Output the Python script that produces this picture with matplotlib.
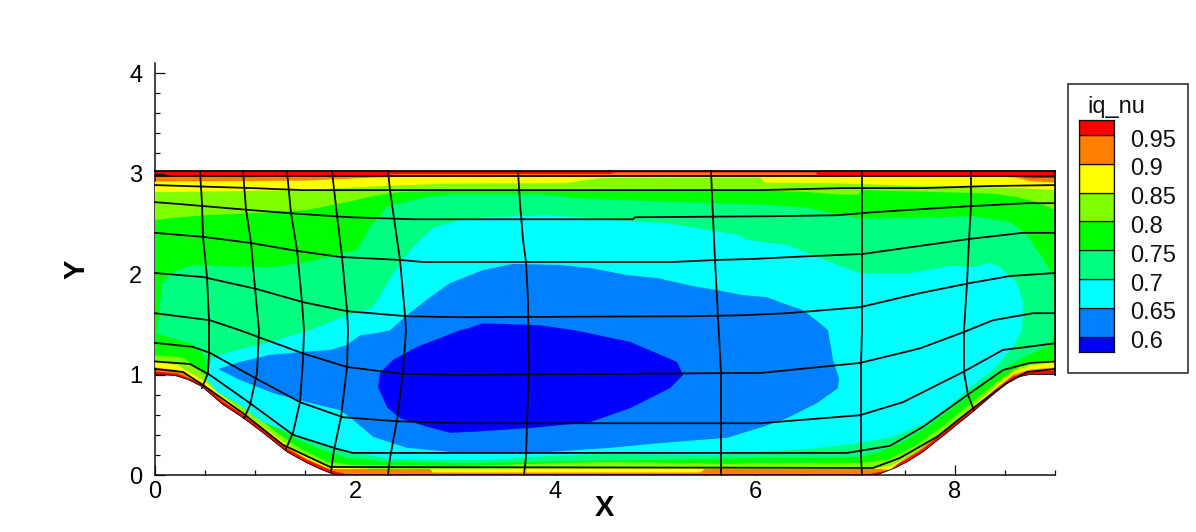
import matplotlib
matplotlib.use("Agg")
import matplotlib.pyplot as plt
from matplotlib.patches import Rectangle
from matplotlib.ticker import MultipleLocator

plt.rcParams['font.family'] = ['Liberation Sans', 'DejaVu Sans']

top_y = 3.025
wall = [(0,1.0),(.2,.99),(.33,.95),(.47,.88),(.68,.70),(.88,.57),(1.08,.42),(1.32,.23),(1.52,.12),(1.65,.06),(1.75,.02),(1.82,0),
        (7.2,0),(7.27,.02),(7.4,.07),(7.52,.13),(7.68,.23),(7.92,.42),(8.18,.63),(8.38,.8),(8.5,.9),(8.58,.95),(8.65,.98),(8.75,1.0),(9,1.0)]

# Contour outlines: upper edge left-to-right, lower edge left-to-right
orange_upper = [(0,2.975),(2.2,2.975),(2.4,2.995),(4.55,2.995),(4.6,3.01),(6.6,3.01),(6.65,2.97),(8.6,2.97),(8.75,2.955),(9,2.955)]
orange_lower = [(0,1.03),(.22,1.01),(.47,.91),(.68,.73),(.88,.60),(1.08,.45),(1.32,.26),(1.52,.15),(1.75,.05),(1.9,.01),
                (7.15,.01),(7.3,.04),(7.52,.16),(7.68,.26),(7.92,.45),(8.18,.66),(8.38,.83),(8.58,.98),(8.75,1.03),(9,1.04)]
yellow_upper = [(0,2.92),(1.5,2.93),(2.2,2.96),(2.4,2.965),(4.5,2.965),(4.55,2.975),(8.45,2.97),(8.6,2.96),(8.75,2.925),(9,2.91)]
yellow_lower = [(0,1.07),(.22,1.045),(.47,.92),(.68,.745),(.88,.605),(1.08,.46),(1.32,.275),(1.52,.16),(1.75,.06),(1.9,.06),
                (2.75,.06),(2.78,.025),(5.45,.025),(5.5,.06),(7.25,.06),(7.35,.05),(7.52,.18),(7.68,.28),(7.92,.46),(8.18,.67),
                (8.38,.84),(8.58,1.0),(8.75,1.05),(9,1.07)]
lime_upper = [(0,2.815),(.85,2.825),(1.45,2.835),(2.25,2.875),(2.95,2.9),(4.1,2.905),(4.45,2.955),(6.05,2.96),(6.1,2.91),
              (6.75,2.905),(7.7,2.875),(8.65,2.855),(9,2.835)]
lime_lower = [(0,1.12),(.22,1.095),(.48,.945),(.68,.78),(.88,.63),(1.08,.48),(1.32,.30),(1.52,.17),(1.75,.08),(2.18,.06),
              (3.05,.06),(6.05,.07),(7.2,.07),(7.35,.09),(7.62,.23),(7.92,.47),(8.18,.68),(8.38,.86),(8.58,1.03),(8.75,1.09),(9,1.12)]
green_upper = [(0,2.537),(.18,2.557),(.52,2.587),(1.02,2.607),(1.52,2.637),(1.92,2.716),(2.18,2.776),(2.45,2.816),(3.05,2.83),
               (6.05,2.83),(6.52,2.816),(6.85,2.79),(7.03,2.79),(7.08,2.835),(8.18,2.806),(8.38,2.80),(8.62,2.766),(8.85,2.706),(9,2.637)]
green_lower = [(0,1.19),(.28,1.17),(.48,1.01),(.68,.855),(.92,.67),(1.18,.45),(1.42,.28),(1.72,.13),(1.98,.10),(3.05,.09),
               (4.52,.13),(5.75,.11),(6.05,.12),(7.05,.12),(7.32,.15),(7.62,.30),(7.92,.52),(8.18,.73),(8.45,.95),(8.68,1.10),(9,1.145)]
spring_upper = [(.03,1.5),(.07,1.91),(.18,2.02),(.38,2.09),(.95,2.07),(1.18,2.07),(1.52,2.12),(2.02,2.24),(2.15,2.47),(2.32,2.67),
                (2.68,2.76),(2.95,2.79),(3.88,2.79),(4.22,2.755),(4.85,2.73),(6.12,2.69),(6.52,2.66),(6.85,2.59),(7.05,2.55),
                (7.6,2.56),(8.18,2.575),(8.55,2.52),(8.7,2.41),(8.87,2.17),(8.97,2.0),(9,1.9)]
spring_lower = [(.01,1.41),(.35,1.31),(.47,1.23),(.52,1.09),(.65,.88),(.92,.70),(1.18,.50),(1.42,.35),(1.72,.23),(1.92,.17),
                (2.35,.13),(3.05,.12),(3.2,.12),(5,.15),(6.05,.17),(6.55,.17),(7.05,.18),(7.22,.22),(7.48,.33),(7.72,.48),
                (7.95,.645),(8.15,.795),(8.35,.965),(8.52,1.075),(8.72,1.19),(8.92,1.27),(9,1.39)]
cyan_outline = [(.5,.975),(.53,1.065),(.58,1.165),(.78,1.235),(1.05,1.295),(1.55,1.44),(1.92,1.59),(2.18,1.67),(2.45,2.11),
                (2.58,2.27),(2.78,2.46),(3.05,2.535),(3.28,2.565),(3.95,2.585),(4.62,2.535),(5.12,2.505),(5.58,2.43),(5.82,2.39),
                (5.92,2.34),(6.15,2.31),(6.32,2.29),(6.62,2.17),(6.88,2.07),(7.05,2.01),(7.55,2.01),(7.95,2.08),(8.18,2.07),
                (8.35,2.11),(8.45,2.07),(8.62,1.91),(8.68,1.71),(8.67,1.44),(8.58,1.275),(8.38,1.045),(8.18,.895),(7.95,.695),
                (7.72,.525),(7.38,.38),(7.05,.32),(6.55,.26),(6.05,.23),(5.62,.20),(4.48,.21),(3.72,.18),(3.35,.15),(2.95,.15),
                (2.35,.16),(2.02,.22),(1.65,.30),(1.35,.42),(1.08,.525),(.85,.695),(.62,.825)]
blue_outline = [(.63,1.055),(.85,1.125),(1.15,1.195),(1.48,1.225),(1.75,1.245),(1.92,1.295),(2.05,1.39),(2.2,1.41),(2.35,1.44),
                (2.52,1.59),(2.75,1.77),(2.95,1.91),(3.08,1.96),(3.28,2.04),(3.58,2.10),(4.05,2.09),(4.35,2.06),(4.72,1.99),
                (5.02,1.96),(5.38,1.88),(5.62,1.84),(5.88,1.79),(6.12,1.77),(6.25,1.72),(6.48,1.64),(6.65,1.51),(6.73,1.44),
                (6.78,1.145),(6.84,.965),(6.83,.865),(6.62,.715),(6.32,.565),(6.08,.48),(5.72,.37),(5.08,.32),(4.55,.27),
                (3.95,.23),(2.95,.23),(2.52,.27),(2.18,.38),(1.98,.55),(1.85,.645),(1.52,.725),(1.18,.815),(.85,.945)]
navy_outline = [(2.23,.875),(2.25,1.015),(2.38,1.145),(2.62,1.275),(3.05,1.44),(3.13,1.46),(3.28,1.51),(3.85,1.49),(4.2,1.44),
                (4.75,1.325),(5.22,1.125),(5.28,.995),(5.15,.865),(4.75,.665),(4.35,.525),(3.78,.47),(3.18,.43),(2.95,.42),
                (2.72,.48),(2.45,.565),(2.32,.675)]

# Mesh lines
h_lines = [
    [(0,3.025),(9,3.025)],
    [(0,2.975),(9,2.975)],
    [(0,2.885),(.98,2.855),(1.48,2.835),(6.05,2.835),(6.88,2.855),(7.68,2.855),(8.32,2.875),(9,2.885)],
    [(0,2.715),(.2,2.70),(.85,2.645),(1.35,2.605),(1.95,2.565),(2.58,2.545),(4.78,2.545),(4.8,2.565),(6.15,2.575),(6.82,2.585),
     (7.18,2.615),(7.65,2.645),(8.15,2.675),(8.72,2.705),(9,2.705)],
    [(0,2.41),(.48,2.37),(.95,2.31),(1.42,2.23),(1.85,2.17),(2.45,2.14),(2.68,2.12),(5.18,2.12),(5.62,2.14),(5.98,2.15),(6.38,2.17),
     (7.08,2.20),(7.65,2.28),(8.15,2.35),(8.68,2.41),(9,2.41)],
    [(0,2.01),(.48,1.97),(1.02,1.85),(1.48,1.72),(1.92,1.63),(2.52,1.58),(3.05,1.57),(5.35,1.58),(5.88,1.59),(6.32,1.61),(7.05,1.67),
     (7.65,1.81),(8.15,1.91),(8.55,1.98),(9,2.01)],
    [(0,1.61),(.55,1.54),(.85,1.44),(1.48,1.21),(1.92,1.075),(2.48,1.005),(3.05,.995),(5.82,1.015),(6.05,1.015),(7.05,1.115),
     (7.65,1.26),(8.08,1.42),(8.38,1.54),(8.78,1.61),(9,1.61)],
    [(0,1.315),(.38,1.275),(.55,1.215),(1.02,.955),(1.45,.725),(1.88,.575),(2.42,.535),(3.05,.515),(6.05,.515),(7.05,.595),
     (7.48,.725),(8.08,1.025),(8.48,1.245),(9,1.31)],
    [(0,1.13),(.35,1.105),(.55,.995),(.95,.715),(1.38,.40),(1.82,.26),(1.98,.22),(6.05,.22),(6.92,.22),(7.35,.29),(7.68,.48),
     (8.15,.815),(8.48,1.045),(8.75,1.115),(9,1.13)],
    [(0,1.055),(.28,1.025),(.48,.895),(.88,.615),(1.28,.30),(1.75,.08),(7.18,.07),(7.45,.17),(7.82,.38),(8.18,.665),(8.52,.915),
     (8.72,1.025),(9,1.055)],
]
v_lines = [
    [(.45,3.025),(.47,2.705),(.48,2.37),(.52,1.97),(.54,1.54),(.54,1.215),(.53,1.015),(.47,.865)],
    [(.88,3.025),(.91,2.645),(.96,2.31),(1.0,1.86),(1.04,1.44),(1.02,1.015),(.95,.695),(.89,.565)],
    [(1.32,3.025),(1.36,2.605),(1.42,2.24),(1.47,1.72),(1.49,1.44),(1.48,1.145),(1.45,.725),(1.38,.42),(1.31,.26)],
    [(1.77,3.025),(1.82,2.585),(1.87,2.17),(1.92,1.64),(1.93,1.44),(1.92,1.075),(1.86,.575),(1.79,.25),(1.76,.03)],
    [(2.33,3.025),(2.35,2.835),(2.39,2.555),(2.45,2.14),(2.5,1.59),(2.51,1.44),(2.48,1.015),(2.42,.545),(2.35,.17),(2.33,0)],
    [(3.63,3.025),(3.65,2.705),(3.68,2.34),(3.71,2.12),(3.73,1.74),(3.74,1.015),(3.72,.515),(3.71,.18),(3.69,0)],
    [(5.56,3.025),(5.58,2.565),(5.6,2.14),(5.63,1.57),(5.66,1.015),(5.66,0)],
    [(7.07,3.025),(7.07,1.44),(7.06,1.115),(7.06,.18),(7.07,0)],
    [(8.16,3.025),(8.16,2.675),(8.14,2.34),(8.12,1.91),(8.09,1.44),(8.09,1.025),(8.13,.795),(8.19,.645)],
]
right_edge = [(9,1.0),(9,3.025)]

# Legend
legend_title = 'iq_nu'
level_edges = [.574,.60,.65,.70,.75,.80,.85,.90,.95,.976]
level_colors = ['#0000ff','#0080ff','#00ffff','#00ff80','#00ff00','#80ff00','#ffff00','#ff8000','#ff0000']
level_labels = ['0.6','0.65','0.7','0.75','0.8','0.85','0.9','0.95']
level_values = [.60,.65,.70,.75,.80,.85,.90,.95]

W, H = 1196, 532
fig = plt.figure(figsize=(W/100, H/100), dpi=100, facecolor='white')
ax = fig.add_axes([155/W, (H-475)/H, 900/W, 412/H])
ax.set_xlim(0, 9)
ax.set_ylim(0, 4.1)
for s in ('top', 'right'):
    ax.spines[s].set_visible(False)
for s in ('left', 'bottom'):
    ax.spines[s].set_linewidth(1.1)
    ax.spines[s].set_color('#111111')

def band(upper, lower, color, z):
    pts = list(upper) + list(reversed(lower))
    ax.fill([p[0] for p in pts], [p[1] for p in pts], color=color, lw=0, zorder=z)

domain_upper = [(0, top_y), (9, top_y)]
band(domain_upper, wall, level_colors[8], 1)
band(orange_upper, orange_lower, level_colors[7], 2)
band(yellow_upper, yellow_lower, level_colors[6], 3)
band(lime_upper, lime_lower, level_colors[5], 4)
band(green_upper, green_lower, level_colors[4], 5)
band(spring_upper, spring_lower, level_colors[3], 6)
band(cyan_outline, [], level_colors[2], 7)
band(blue_outline, [], level_colors[1], 8)
band(navy_outline, [], level_colors[0], 9)

for line in h_lines + v_lines + [right_edge]:
    ax.plot([p[0] for p in line], [p[1] for p in line], color='#0a0a0a', lw=1.3, zorder=10,
            solid_joinstyle='miter', clip_on=False)
ax.plot([p[0] for p in wall], [p[1] for p in wall], color='#0a0a0a', lw=.6, zorder=10)

ax.xaxis.set_major_locator(MultipleLocator(2))
ax.xaxis.set_minor_locator(MultipleLocator(.5))
ax.yaxis.set_major_locator(MultipleLocator(1))
ax.yaxis.set_minor_locator(MultipleLocator(.2))
ax.tick_params(which='major', direction='in', length=7.2, width=.9, labelsize=17, color='#111111')
ax.tick_params(which='minor', direction='in', length=3.6, width=.9, color='#111111')
ax.tick_params(axis='x', which='major', pad=4.5)
ax.tick_params(axis='y', which='major', pad=9)
for t in ax.get_xticklines(minor=True) + ax.get_yticklines(minor=True) + ax.get_xticklines() + ax.get_yticklines():
    t.set_zorder(11)

ax.set_xlabel('X', fontsize=21, fontweight='bold')
ax.xaxis.set_label_coords(.499, -.045)
ax.set_ylabel('Y', fontsize=21, fontweight='bold', rotation=90)
ax.yaxis.set_label_coords(-.072, .5)

# Legend frame and bar
fig.add_artist(Rectangle((1068/W, (H-373)/H), 120/W, 289/H, transform=fig.transFigure,
                         facecolor='white', edgecolor='#222222', lw=1.1, zorder=-1))
fig.text(1087/W, (H-113)/H, legend_title, fontsize=17, ha='left', va='baseline', color='#111111')
cax = fig.add_axes([1079/W, (H-351.7)/H, 35/W, 231.7/H])
cax.bar([0]*len(level_colors), [b-a for a, b in zip(level_edges[:-1], level_edges[1:])], bottom=level_edges[:-1],
        width=1, color=level_colors, edgecolor='#111111', lw=.9, align='edge')
cax.set_xlim(0, 1)
cax.set_ylim(level_edges[0], level_edges[-1])
cax.set_xticks([])
cax.set_yticks([])
for s in cax.spines.values():
    s.set_linewidth(.9)
    s.set_color('#111111')
for v, lab in zip(level_values, level_labels):
    cax.annotate(lab, (1, v), xytext=(11.8, -4), textcoords='offset points', fontsize=17,
                 va='center', ha='left', color='#111111', annotation_clip=False)

fig.savefig('out.png', dpi=100)
